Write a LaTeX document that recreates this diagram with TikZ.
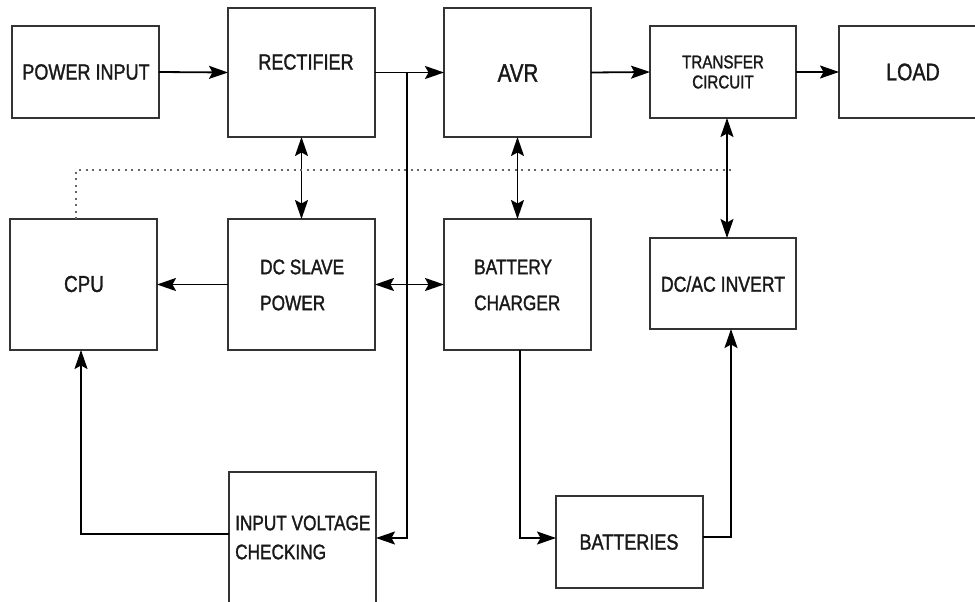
\documentclass[tikz,border=0pt]{standalone}
\usepackage{fontspec}
\setmainfont{Liberation Sans}[FakeStretch=0.82,FakeBold=1.4]
\usetikzlibrary{arrows.meta}
\tikzset{
  blk/.style={draw=black!80, line width=1.5pt, inner sep=0pt, outer sep=0pt},
  wire/.style={draw=black, line width=1.8pt},
  tip/.tip={Stealth[length=19pt,width=13pt,inset=3.5pt]},
  arr/.style={wire, -tip},
  darr/.style={wire, tip-tip},
  dots/.style={draw=black!60, line width=1.3pt, dash pattern=on 2pt off 4.5pt},
  lbl/.style={inner sep=0pt, text=black!90},
}
\newcommand{\fs}[2]{\fontsize{#1}{#2}\selectfont}
\begin{document}
\begin{tikzpicture}[x=1pt,y=-1pt]
\useasboundingbox (0,0) rectangle (975,602);
\clip (0,0) rectangle (975,602);
\fill[white] (0,0) rectangle (975,602);
% boxes
\node[blk, minimum width=147pt, minimum height=92pt]  (pin)   at (85.5,72) {};
\node[blk, minimum width=147pt, minimum height=129pt] (rect)  at (301.5,72.5) {};
\node[blk, minimum width=147pt, minimum height=129pt] (avr)   at (517.5,72.5) {};
\node[blk, minimum width=146pt, minimum height=92pt]  (trans) at (723,72) {};
\node[blk, minimum width=151pt, minimum height=92pt]  (load)  at (914.5,72) {};
\node[blk, minimum width=147pt, minimum height=131pt] (cpu)   at (83.5,284.5) {};
\node[blk, minimum width=147pt, minimum height=131pt] (dcs)   at (301.5,284.5) {};
\node[blk, minimum width=147pt, minimum height=131pt] (bch)   at (517.5,284.5) {};
\node[blk, minimum width=146pt, minimum height=91pt]  (inv)   at (723,283.5) {};
\node[blk, minimum width=147pt, minimum height=143pt] (ivc)   at (302.5,543.5) {};
\node[blk, minimum width=147pt, minimum height=92pt]  (bat)   at (629.5,542) {};
% labels
\node[lbl, font=\fs{22}{24}] (tpin) at (86,72) {POWER INPUT};
\node[lbl, font=\fs{22}{24}] (trect) at (306,62) {RECTIFIER};
\node[lbl, font=\fs{25}{28}] (tavr) at (518,73) {AVR};
\node[lbl, font=\fs{18.5}{20}, align=center] (ttrans) at (723,72) {TRANSFER\\CIRCUIT};
\node[lbl, font=\fs{24}{28}] (tload) at (913,72) {LOAD};
\node[lbl, font=\fs{23}{26}] (tcpu) at (84,284) {CPU};
\node[lbl, font=\fs{21}{36}, align=left, anchor=west] (tdcs) at (260,285) {DC SLAVE\\POWER};
\node[lbl, font=\fs{21}{36}, align=left, anchor=west] (tbch) at (474,285) {BATTERY\\CHARGER};
\node[lbl, font=\fs{21.5}{24}] (tinv) at (723,284) {DC/AC INVERT};
\node[lbl, font=\fs{21}{29}, align=left, anchor=west] (tivc) at (235,537.5) {INPUT VOLTAGE\\CHECKING};
\node[lbl, font=\fs{22}{24}] (tbat) at (629,542) {BATTERIES};
% helper coordinates
\coordinate (j1) at (407,72);
\coordinate (j2) at (407,538);
\coordinate (d1) at (76,170);
\coordinate (d2) at (731,170);
\coordinate (c1) at (81,534);
\coordinate (b1) at (520,538);
\coordinate (b2) at (731,537);
% main chain
\draw[arr] (pin.east) -- (rect.west);
\draw[arr] (rect.east) -- (avr.west);
\draw[arr] (avr.east) -- (trans.west);
\draw[arr] (trans.east) -- (load.west);
% rectifier branch to input voltage checking
\draw[arr] (j1) -- (j2) -- (j2 -| ivc.east);
% bidirectional verticals
\draw[darr] (rect.south) -- (dcs.north);
\draw[darr] (avr.south) -- (bch.north);
\draw[darr] ([xshift=4pt]trans.south) -- ([xshift=4pt]inv.north);
% horizontal middle row
\draw[darr] (dcs.east) -- (bch.west);
\draw[arr] (dcs.west) -- (cpu.east);
% dotted control line
\draw[dots] (cpu.north -| d1) -- (d1) -- (d2);
% input voltage checking to cpu
\draw[arr] (c1 -| ivc.west) -- (c1) -- (c1 |- cpu.south);
% charger to batteries
\draw[arr] (b1 |- bch.south) -- (b1) -- (b1 -| bat.west);
% batteries to inverter
\draw[arr] (b2 -| bat.east) -- (b2) -- (b2 |- inv.south);
\end{tikzpicture}
\end{document}
